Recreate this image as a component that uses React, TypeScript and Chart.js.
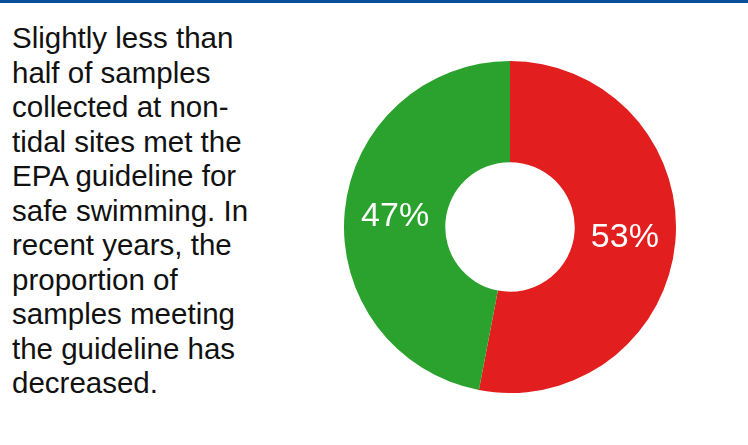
import React, { useEffect, useRef } from "react";
import { Chart, registerables } from "chart.js";

Chart.register(...registerables);

const categories = ["Did not meet guideline", "Met guideline"];
const values = [53, 47];
const sliceColors = ["#e31e1f", "#2ba22d"];
const valueLabels = ["53%", "47%"];
const textLines = [
  "Slightly less than",
  "half of samples",
  "collected at non-",
  "tidal sites met the",
  "EPA guideline for",
  "safe swimming. In",
  "recent years, the",
  "proportion of",
  "samples meeting",
  "the guideline has",
  "decreased.",
];

const labelPlugin = {
  id: "sliceLabels",
  afterDatasetsDraw(chart: any) {
    const ctx = chart.ctx;
    const meta = chart.getDatasetMeta(0);
    ctx.save();
    ctx.fillStyle = "#ffffff";
    ctx.font = "34px 'Liberation Sans', Arial, sans-serif";
    ctx.textAlign = "center";
    ctx.textBaseline = "middle";
    meta.data.forEach((arc: any, i: number) => {
      const p = arc.tooltipPosition();
      ctx.fillText(valueLabels[i], p.x, p.y);
    });
    ctx.restore();
  },
};

export default function App() {
  const ref = useRef<HTMLCanvasElement>(null);
  useEffect(() => {
    if (!ref.current) return;
    const chart = new Chart(ref.current, {
      type: "doughnut",
      data: {
        labels: categories,
        datasets: [
          {
            data: values,
            backgroundColor: sliceColors,
            borderWidth: 0,
          },
        ],
      },
      options: {
        animation: false,
        responsive: false,
        maintainAspectRatio: false,
        cutout: "39%",
        layout: { padding: 0 },
        plugins: {
          legend: { display: false },
          tooltip: { enabled: false },
        },
      },
      plugins: [labelPlugin],
    });
    return () => chart.destroy();
  }, []);

  return (
    <div
      style={{
        position: "fixed",
        left: 0,
        top: 0,
        width: 748,
        height: 445,
        background: "#ffffff",
        overflow: "hidden",
      }}
    >
      <div
        style={{
          position: "absolute",
          left: 0,
          top: 0,
          width: 748,
          height: 3,
          background: "#0b4f9b",
        }}
      />
      <div
        style={{
          position: "absolute",
          left: 12,
          top: 21,
          fontFamily: "'Liberation Sans', Arial, sans-serif",
          fontSize: 29.5,
          lineHeight: "34.5px",
          color: "#111111",
          whiteSpace: "nowrap",
        }}
      >
        {textLines.map((t, i) => (
          <div key={i}>{t}</div>
        ))}
      </div>
      <canvas
        ref={ref}
        width={332}
        height={332}
        style={{ position: "absolute", left: 344, top: 61, width: 332, height: 332 }}
      />
    </div>
  );
}
